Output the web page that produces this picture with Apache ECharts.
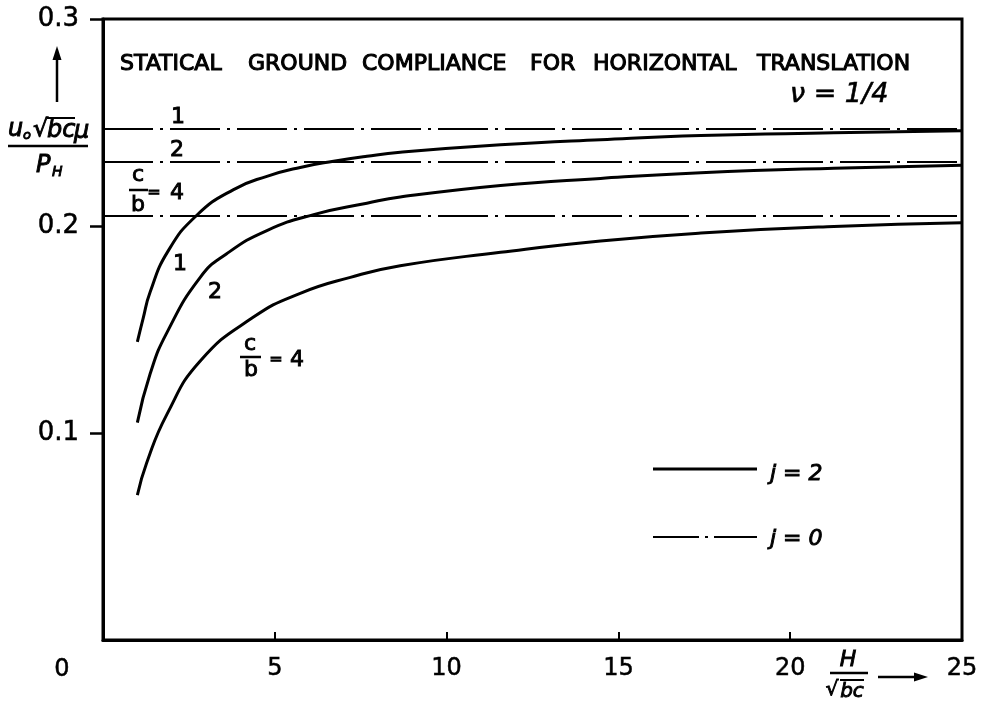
<!DOCTYPE html>
<html><head><meta charset="utf-8">
<script src="https://cdn.jsdelivr.net/npm/echarts@6/dist/echarts.min.js"></script>
<style>html,body{margin:0;padding:0;background:#fff}#c{width:986px;height:706px}</style>
</head><body><div id="c"></div>
<script>
// ---- data ----
const xTickValues = [5, 10, 15, 20];
const xLabelValues = [5, 10, 15, 20, 25];
const yTickValues = [0.1, 0.2, 0.3];
// j = 2 curves (H/sqrt(bc), u0 sqrt(bc) mu / PH)
const curveCb1 = [[1.0,0.144],[1.17,0.1555],[1.37,0.168],[1.88,0.1875],[2.73,0.2052],[3.8,0.2176],[4.77,0.2240],[5.74,0.2283],[6.71,0.2313],[7.68,0.2337],[8.65,0.2356],[11.57,0.2392],[14.48,0.2417],[17.4,0.2437],[21.27,0.2450],[25,0.2460]];
const curveCb2 = [[1.0,0.105],[1.37,0.1285],[1.86,0.1485],[2.83,0.1752],[3.6,0.1866],[4.77,0.1978],[6.13,0.2055],[7.68,0.2110],[8.65,0.2140],[11.57,0.2196],[14.48,0.2230],[17.4,0.2257],[21.27,0.2279],[25,0.2293]];
const curveCb4 = [[1.0,0.070],[1.27,0.0855],[1.86,0.1090],[2.83,0.1348],[4.38,0.1560],[5.74,0.1675],[7.2,0.1752],[8.65,0.1808],[11.57,0.1873],[14.48,0.1928],[17.4,0.1966],[21.27,0.1998],[25,0.2016]];
// j = 0 levels (c/b = 1, 2, 4)
const levelCb1 = 0.2469;
const levelCb2 = 0.2309;
const levelCb4 = 0.2048;
const xRange = [0, 25];

const F = '"DejaVu Sans", sans-serif';
const dashDot = [50, 7, 3, 7];
function txt(text, x, y, size, opts) {
  opts = opts || {};
  return { type: 'text', x: x, y: y, z: 10, style: Object.assign({
    text: text, fill: '#000', font: (opts.italic ? 'italic ' : '') + size + 'px ' + F,
    align: opts.align || 'left', verticalAlign: 'middle',
    stroke: '#000', lineWidth: opts.bold === undefined ? 0.9 : opts.bold }, opts.style || {}) };
}
function ln(x1, y1, x2, y2, w, dash) {
  return { type: 'line', z: 10, shape: { x1: x1, y1: y1, x2: x2, y2: y2 },
    style: { stroke: '#000', lineWidth: w, lineDash: dash || null } };
}
function arrowUp(x, yBottom, yTop) {
  return [ln(x, yBottom, x, yTop + 6, 2.5),
    { type: 'polygon', z: 10, shape: { points: [[x, yTop], [x - 4.5, yTop + 14], [x + 4.5, yTop + 14]] }, style: { fill: '#000' } }];
}
function arrowRight(xLeft, xRight, y) {
  return [ln(xLeft, y, xRight - 6, y, 2.5),
    { type: 'polygon', z: 10, shape: { points: [[xRight, y], [xRight - 14, y - 4.5], [xRight - 14, y + 4.5]] }, style: { fill: '#000' } }];
}

const titleWords = [['STATICAL',120],['GROUND',248],['COMPLIANCE',362],['FOR',530],['HORIZONTAL',593],['TRANSLATION',757]];
const graphics = [];
titleWords.forEach(w => graphics.push(txt(w[0], w[1], 64, 22, { bold: 1.1 })));
graphics.push(txt('ν = 1/4', 790, 95, 27, { italic: true, bold: 0.6 }));
// y axis name
graphics.push(...arrowUp(57, 102, 46));
graphics.push(txt('u', 8, 130, 24, { italic: true }));
graphics.push(txt('o', 23, 136, 13, { italic: true }));
graphics.push(txt('√', 33, 130, 24, { italic: true }));
graphics.push(txt('bc', 47, 131, 24, { italic: true }));
graphics.push(ln(47, 118, 75, 118, 2));
graphics.push(txt('μ', 74, 132, 24, { italic: true }));
graphics.push(ln(8, 146, 88, 146, 2.5));
graphics.push(txt('P', 36, 166, 24, { italic: true }));
graphics.push(txt('H', 52, 172, 14, { italic: true }));
// x axis name
graphics.push(txt('H', 848, 660, 22, { italic: true, align: 'center' }));
graphics.push(ln(830, 673, 868, 673, 2.5));
graphics.push(txt('√', 832, 690, 20, { italic: true, align: 'center' }));
graphics.push(txt('bc', 852, 692, 20, { italic: true, align: 'center' }));
graphics.push(ln(840, 680, 864, 680, 2));
graphics.push(...arrowRight(878, 928, 677));
// origin label
graphics.push(txt('0', 62, 670, 24, { align: 'center', bold: 0.5 }));
// labels of j=0 levels
graphics.push(txt('1', 178, 117, 22, { align: 'center' }));
graphics.push(txt('2', 177, 150, 22, { align: 'center' }));
graphics.push(txt('c', 138, 175, 22, { align: 'center' }));
graphics.push(ln(129, 190, 148, 190, 2.5));
graphics.push(txt('b', 138, 205, 22, { align: 'center' }));
graphics.push(txt('=', 154, 193, 16, { align: 'center' }));
graphics.push(txt('4', 177, 193, 22, { align: 'center' }));
// labels of j=2 curves
graphics.push(txt('1', 180, 264, 22, { align: 'center' }));
graphics.push(txt('2', 215, 292, 22, { align: 'center' }));
graphics.push(txt('c', 250, 344, 22, { align: 'center' }));
graphics.push(ln(240, 357, 261, 357, 2.5));
graphics.push(txt('b', 251, 370, 22, { align: 'center' }));
graphics.push(txt('=', 276, 360, 16, { align: 'center' }));
graphics.push(txt('4', 297, 360, 22, { align: 'center' }));
// legend
graphics.push(ln(653, 469, 757, 469, 3));
graphics.push(txt('j = 2', 770, 474, 22, { italic: true }));
graphics.push(ln(653, 537, 757, 537, 2, [46, 6, 3, 6]));
graphics.push(txt('j = 0', 770, 539, 22, { italic: true }));

function level(v) { return [[xRange[0], v], [xRange[1], v]]; }
const solid = { color: '#000', width: 3 };
const dd = { color: '#000', width: 2, type: dashDot };

const chart = echarts.init(document.getElementById('c'), null, { renderer: 'canvas' });
chart.setOption({
  backgroundColor: '#fff',
  animation: false,
  grid: { left: 103, top: 19, right: 24, bottom: 66, show: true, borderColor: '#000', borderWidth: 3, outerBoundsMode: 'none' },
  xAxis: {
    type: 'value', min: 0, max: 25, interval: 5,
    axisLine: { lineStyle: { color: '#000', width: 3 } },
    axisTick: { show: true, inside: true, length: 8, customValues: xTickValues, lineStyle: { color: '#000', width: 2 } },
    axisLabel: { customValues: xLabelValues, color: '#000', fontSize: 24, fontFamily: F, margin: 17, textBorderColor: '#000', textBorderWidth: 0.5 },
    splitLine: { show: false }
  },
  yAxis: {
    type: 'value', min: 0, max: 0.3, interval: 0.1,
    axisLine: { show: true, lineStyle: { color: '#000', width: 3 } },
    axisTick: { show: true, inside: false, length: 13, customValues: yTickValues, lineStyle: { color: '#000', width: 2.5 } },
    axisLabel: { customValues: yTickValues, color: '#000', fontSize: 26, fontFamily: F, margin: 24, textBorderColor: '#000', textBorderWidth: 0.5,
      formatter: v => (Math.round(v * 10) / 10).toFixed(1) },
    splitLine: { show: false }
  },
  series: [
    { name: 'c/b=1 j=0', type: 'line', data: level(levelCb1), symbol: 'none', lineStyle: dd, z: 2 },
    { name: 'c/b=2 j=0', type: 'line', data: level(levelCb2), symbol: 'none', lineStyle: dd, z: 2 },
    { name: 'c/b=4 j=0', type: 'line', data: level(levelCb4), symbol: 'none', lineStyle: dd, z: 2 },
    { name: 'c/b=1 j=2', type: 'line', data: curveCb1, symbol: 'none', smooth: 0.5, lineStyle: solid, z: 3 },
    { name: 'c/b=2 j=2', type: 'line', data: curveCb2, symbol: 'none', smooth: 0.5, lineStyle: solid, z: 3 },
    { name: 'c/b=4 j=2', type: 'line', data: curveCb4, symbol: 'none', smooth: 0.5, lineStyle: solid, z: 3 }
  ],
  graphic: graphics
});
</script></body></html>
